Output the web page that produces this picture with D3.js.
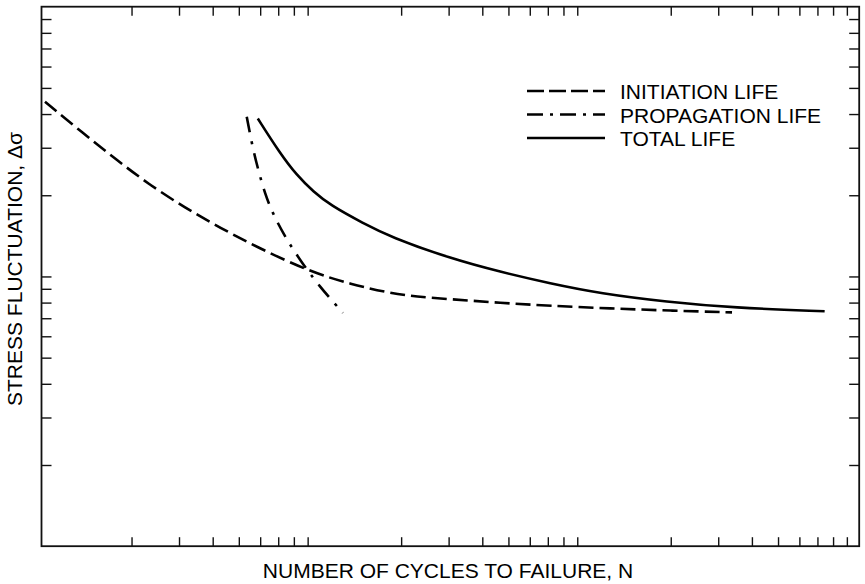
<!DOCTYPE html>
<html>
<head>
<meta charset="utf-8">
<script src="https://cdn.jsdelivr.net/npm/d3@7"></script>
<style>
  body { margin: 0; background: #fff; }
  svg { display: block; font-family: "Liberation Sans", Arial, Helvetica, sans-serif; }
</style>
</head>
<body>
<svg id="chart" width="865" height="584"></svg>
<script>
// cycles N (log) and stress range (log)
const initiationN = [0.955, 1.325, 1.763, 2.343, 3.16, 4.26, 5.91, 9.19, 13.13, 17.7, 22.88, 30.4, 46.6, 71.5, 119.3, 199.2, 337.5];
const initiationS = [44.4, 33.9, 27.0, 21.8, 17.97, 15.15, 12.77, 10.4, 9.34, 8.72, 8.4, 8.24, 7.98, 7.78, 7.61, 7.47, 7.36];

const propagationN = [5.35, 5.6, 5.9, 6.26, 6.65, 7.42, 8.49, 9.87, 12.16];
const propagationS = [39.1, 30.7, 24.8, 20.2, 17.3, 13.99, 11.39, 9.28, 7.33];

const totalN = [5.88, 7.11, 8.21, 9.46, 10.91, 14.5, 18.21, 30.4, 46.6, 71.5, 109.5, 193.6, 341.2, 744.5];
const totalS = [38.5, 28.6, 23.7, 20.6, 18.38, 15.72, 14.03, 11.66, 10.4, 9.42, 8.65, 8.05, 7.65, 7.43];

// minor ticks only on N, decade tick at 10 on stress
const xTicks = [2, 3, 4, 5, 6, 7, 8, 9, 20, 30, 40, 50, 60, 70, 80, 90, 200, 300, 400, 500, 600, 700, 800, 900];
const yTicks = [2, 3, 4, 5, 6, 7, 8, 9, 10, 20, 30, 40, 50, 60, 70, 80, 90];

const seriesNames = ["INITIATION LIFE", "PROPAGATION LIFE", "TOTAL LIFE"];
const dashes = ["15,6", "16,9,3,9", null];
const legendDashes = ["17,5", "16,7,3,7", null];

const svg = d3.select("#chart");
const m = { left: 41.5, right: 859.2, top: 6.7, bottom: 546.2 };

const x = d3.scaleLog().domain([0.927, 1000]).range([m.left, m.right]);
const y = d3.scaleLog().domain([1, 100]).range([m.bottom, m.top]);

// ticks pointing inward on all four sides
const noLabel = () => "";
svg.append("g").attr("transform", `translate(0,${m.bottom})`)
   .call(d3.axisTop(x).tickValues(xTicks).tickSize(9).tickFormat(noLabel));
svg.append("g").attr("transform", `translate(0,${m.top})`)
   .call(d3.axisBottom(x).tickValues(xTicks).tickSize(9).tickFormat(noLabel));
svg.append("g").attr("transform", `translate(${m.left},0)`)
   .call(d3.axisRight(y).tickValues(yTicks).tickSize(10).tickFormat(noLabel));
svg.append("g").attr("transform", `translate(${m.right},0)`)
   .call(d3.axisLeft(y).tickValues(yTicks).tickSize(10).tickFormat(noLabel));
svg.selectAll(".domain").remove();
svg.selectAll(".tick line").attr("stroke", "#111").attr("stroke-width", 1.4);

svg.append("rect")
   .attr("x", m.left).attr("y", m.top)
   .attr("width", m.right - m.left).attr("height", m.bottom - m.top)
   .attr("fill", "none").attr("stroke", "#111").attr("stroke-width", 1.8);

const line = d3.line()
   .x(d => x(d[0])).y(d => y(d[1]))
   .curve(d3.curveBasis);

const series = [
  d3.zip(initiationN, initiationS),
  d3.zip(propagationN, propagationS),
  d3.zip(totalN, totalS)
];

series.forEach((pts, i) => {
  svg.append("path").datum(pts)
     .attr("fill", "none").attr("stroke", "#000").attr("stroke-width", 2.6)
     .attr("stroke-dasharray", dashes[i])
     .attr("d", line);
});

// legend
const legend = svg.append("g");
seriesNames.forEach((name, i) => {
  const ly = 91 + i * 23.5;
  legend.append("line")
     .attr("x1", 527).attr("x2", 605).attr("y1", ly).attr("y2", ly)
     .attr("stroke", "#000").attr("stroke-width", 2.6)
     .attr("stroke-dasharray", legendDashes[i]);
  legend.append("text")
     .attr("x", 620).attr("y", ly + 8)
     .style("font-size", "21px").attr("fill", "#000")
     .text(name);
});

// axis titles
svg.append("text")
   .attr("x", 448).attr("y", 578)
   .attr("text-anchor", "middle").style("font-size", "21px")
   .text("NUMBER OF CYCLES TO FAILURE, N");

svg.append("text")
   .attr("transform", "translate(22,269) rotate(-90)")
   .attr("text-anchor", "middle").style("font-size", "21px")
   .text("STRESS FLUCTUATION, Δσ");
</script>
</body>
</html>
